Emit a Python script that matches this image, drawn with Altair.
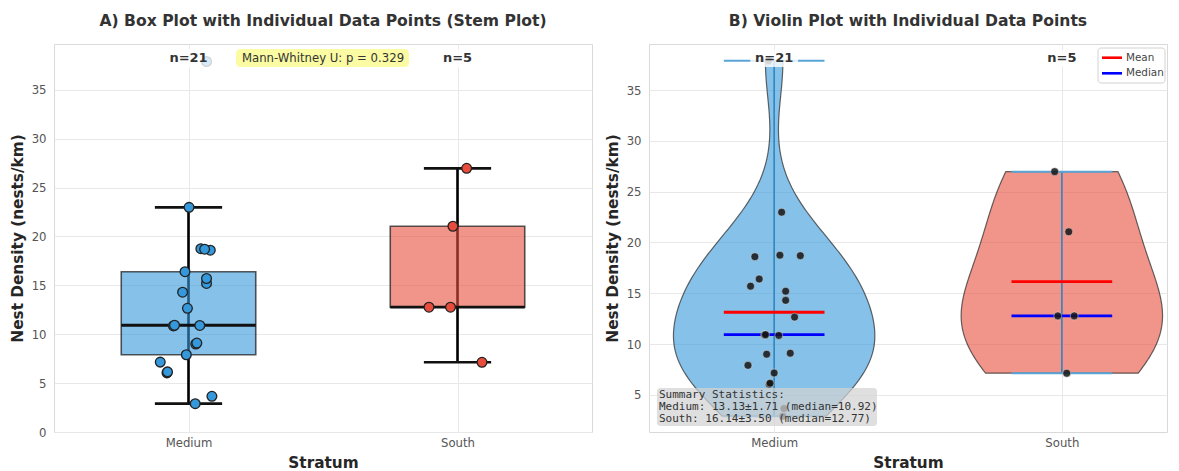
import altair as alt
import numpy as np
import pandas as pd

# ---------------- data ----------------
strata = ["Medium", "South"]
positions = [1, 2]
colors = ["#3498db", "#e74c3c"]

medium_values = [2.9, 3.65, 6.05, 6.15, 7.15, 7.9, 9.0, 9.1, 10.85, 10.9, 10.92,
                 12.65, 14.3, 15.2, 15.7, 16.4, 18.6, 18.75, 18.7, 22.98, 37.9]
medium_jitter_box = [0.025, 0.087, -0.08, -0.078, -0.105, -0.008, 0.027, 0.031, -0.056, 0.042, -0.052,
                     -0.004, -0.022, 0.067, 0.067, -0.013, 0.081, 0.046, 0.060, 0.002, 0.067]
medium_jitter_violin = [0.03, 0.034, -0.017, -0.014, 0.0, -0.091, -0.026, 0.056, 0.016, -0.033, -0.030,
                        0.071, 0.040, 0.040, -0.082, -0.052, -0.067, 0.020, 0.091, 0.026, -0.02]

south_values = [26.97, 21.05, 12.77, 12.77, 7.13]
south_jitter_box = [0.034, -0.017, -0.106, -0.026, 0.091]
south_jitter_violin = [-0.025, 0.024, -0.014, 0.043, 0.017]

y_ticks_left = [0, 5, 10, 15, 20, 25, 30, 35]
y_ticks_right = [5, 10, 15, 20, 25, 30, 35]
test_label = "Mann-Whitney U: p = 0.329"
legend_labels = ["Mean", "Median"]
legend_colors = ["#ff0000", "#0000ff"]
title_left = "A) Box Plot with Individual Data Points (Stem Plot)"
title_right = "B) Violin Plot with Individual Data Points"
y_title = "Nest Density (nests/km)"
x_title = "Stratum"

values_by = {"Medium": medium_values, "South": south_values}
jb_by = {"Medium": medium_jitter_box, "South": south_jitter_box}
jv_by = {"Medium": medium_jitter_violin, "South": south_jitter_violin}

# ---------------- tables ----------------
rows = []
for s, p in zip(strata, positions):
    for v, jb, jv in zip(values_by[s], jb_by[s], jv_by[s]):
        rows.append({"stratum": s, "pos": p, "value": v, "jb": jb, "jv": jv})
pts = pd.DataFrame(rows)

stat_rows = []
mm_rows = []
summary_lines = ["Summary Statistics:"]
for s, p in zip(strata, positions):
    v = np.array(values_by[s])
    q1, med, q3 = np.percentile(v, [25, 50, 75])
    iqr = q3 - q1
    lo = v[v >= q1 - 1.5 * iqr].min()
    hi = v[v <= q3 + 1.5 * iqr].max()
    mean = v.mean()
    sem = v.std(ddof=1) / np.sqrt(len(v))
    stat_rows.append({"stratum": s, "pos": p, "q1": q1, "q3": q3, "med": med,
                      "lo": lo, "hi": hi, "vmin": v.min(), "vmax": v.max(),
                      "nlabel": f"n={len(v)}"})
    mm_rows.append({"stat": "Mean", "pos": p, "value": mean})
    mm_rows.append({"stat": "Median", "pos": p, "value": med})
    summary_lines.append(f"{s}: {mean:.2f}\u00b1{sem:.2f} (median={med:.2f})")
stats = pd.DataFrame(stat_rows)
mm = pd.DataFrame(mm_rows)

# ---------------- helpers ----------------
LEFT_W, RIGHT_W, H = 538, 518, 388
XL_DOM = [0.5, 2.5]
XR_DOM = [0.565, 0.565 + RIGHT_W / 287.7]
YL_DOM = [0, 39.69]
YR_DOM = [1.34, 39.54]
lab_expr = f"datum.value == {positions[0]} ? '{strata[0]}' : '{strata[1]}'"


def X(field, dom):
    return alt.X(field, type="quantitative",
                 scale=alt.Scale(domain=dom, nice=False, zero=False),
                 axis=alt.Axis(values=positions, labelExpr=lab_expr, title=x_title,
                               labelPadding=5, titlePadding=7))


def Y(field, dom, ticks):
    return alt.Y(field, type="quantitative",
                 scale=alt.Scale(domain=dom, nice=False, zero=False),
                 axis=alt.Axis(values=ticks, title=y_title, labelPadding=8, titlePadding=6))


fill_enc = alt.Fill("stratum:N", scale=alt.Scale(domain=strata, range=colors), legend=None)

# ---------------- left panel: box / stem plot ----------------
bs = alt.Chart(stats).transform_calculate(
    bl="datum.pos - 0.25", br="datum.pos + 0.25",
    cl="datum.pos - 0.125", cr="datum.pos + 0.125",
    nl="datum.pos - 0.075", nr="datum.pos + 0.09")

stem = bs.mark_rule(color="black", strokeWidth=2.6).encode(
    x=X("pos", XL_DOM), y=Y("lo", YL_DOM, y_ticks_left), y2="hi")
box = bs.mark_rect(fillOpacity=0.6, stroke="#222222", strokeWidth=1.6, strokeOpacity=0.75).encode(
    x=X("bl", XL_DOM), x2="br", y=Y("q1", YL_DOM, y_ticks_left), y2="q3", fill=fill_enc)
median_l = bs.mark_rule(color="#111111", strokeWidth=2.8).encode(
    x=X("bl", XL_DOM), x2="br", y=Y("med", YL_DOM, y_ticks_left))
cap_hi = bs.mark_rule(color="#111111", strokeWidth=2.6).encode(
    x=X("cl", XL_DOM), x2="cr", y=Y("hi", YL_DOM, y_ticks_left))
cap_lo = bs.mark_rule(color="#111111", strokeWidth=2.6).encode(
    x=X("cl", XL_DOM), x2="cr", y=Y("lo", YL_DOM, y_ticks_left))
pts_l = alt.Chart(pts).transform_calculate(xj="datum.pos + datum.jb").mark_circle(
    size=95, opacity=1, stroke="#222222", strokeWidth=1.3).encode(
    x=X("xj", XL_DOM), y=Y("value", YL_DOM, y_ticks_left), fill=fill_enc)
nbox_l = bs.mark_rect(fill="white", opacity=0.8, cornerRadius=4).encode(
    x=X("nl", XL_DOM), x2="nr", y=alt.value(5), y2=alt.value(24))
ntext_l = bs.mark_text(fontSize=13, fontWeight="bold", color="#333333").encode(
    x=X("pos", XL_DOM), y=alt.value(14), text="nlabel:N")
tdf = pd.DataFrame({"label": [test_label]})
mw_box = alt.Chart(tdf).mark_rect(fill="#fbfb9a", opacity=0.9, cornerRadius=4).encode(
    x=alt.value(182), x2=alt.value(355), y=alt.value(5), y2=alt.value(23))
mw_text = alt.Chart(tdf).mark_text(fontSize=11.7, color="#333333").encode(
    x=alt.value(LEFT_W / 2), y=alt.value(14), text="label:N")

left = alt.layer(stem, box, median_l, cap_hi, cap_lo, pts_l, nbox_l, ntext_l, mw_box, mw_text).properties(
    width=LEFT_W, height=H,
    title=alt.TitleParams(title_left, fontSize=15.6, fontWeight="bold", color="#333333", offset=14))

# ---------------- right panel: violin plot ----------------
violins = []
for s, p, c in zip(strata, positions, colors):
    v = np.array(values_by[s])
    bw = v.std(ddof=1) * len(v) ** (-0.2)
    vio = alt.Chart(pts).transform_filter(alt.datum.stratum == s).transform_density(
        "value", as_=["value", "density"], extent=[float(v.min()), float(v.max())],
        bandwidth=float(bw), steps=120
    ).transform_joinaggregate(maxd="max(density)").transform_calculate(
        xa=f"{p} - 0.35 * datum.density / datum.maxd",
        xb=f"{p} + 0.35 * datum.density / datum.maxd"
    ).mark_area(orient="horizontal", color=c, fillOpacity=0.6, stroke="#333333",
                strokeWidth=1.2, strokeOpacity=0.75).encode(
        y=Y("value", YR_DOM, y_ticks_right), x=X("xa", XR_DOM), x2="xb")
    violins.append(vio)

rs = alt.Chart(stats).transform_calculate(
    cl="datum.pos - 0.175", cr="datum.pos + 0.175",
    nl="datum.pos - 0.083", nr="datum.pos + 0.083")
cbar = rs.mark_rule(color="#2e86c1", strokeWidth=1.6).encode(
    x=X("pos", XR_DOM), y=Y("vmin", YR_DOM, y_ticks_right), y2="vmax")
cmax = rs.mark_rule(color="#5aa5d8", strokeWidth=2).encode(
    x=X("cl", XR_DOM), x2="cr", y=Y("vmax", YR_DOM, y_ticks_right))
cmin = rs.mark_rule(color="#5aa5d8", strokeWidth=2).encode(
    x=X("cl", XR_DOM), x2="cr", y=Y("vmin", YR_DOM, y_ticks_right))
mm_lines = alt.Chart(mm).transform_calculate(
    l="datum.pos - 0.175", r="datum.pos + 0.175").mark_rule(strokeWidth=2.8).encode(
    x=X("l", XR_DOM), x2="r", y=Y("value", YR_DOM, y_ticks_right),
    stroke=alt.Stroke("stat:N", scale=alt.Scale(domain=legend_labels, range=legend_colors),
                      legend=None))
pts_r = alt.Chart(pts).transform_calculate(xj="datum.pos + datum.jv").mark_circle(
    size=64, color="#151515", opacity=0.85, stroke="white", strokeWidth=0.5).encode(
    x=X("xj", XR_DOM), y=Y("value", YR_DOM, y_ticks_right))
sdf = pd.DataFrame({"txt": ["\n".join(summary_lines)]})
sum_box = alt.Chart(sdf).mark_rect(fill="#d3d3d3", opacity=0.72, cornerRadius=3).encode(
    x=alt.value(8), x2=alt.value(228), y=alt.value(344), y2=alt.value(382))
sum_text = alt.Chart(sdf).mark_text(font="DejaVu Sans Mono", fontSize=11, lineBreak="\n",
                                    lineHeight=12, align="left", baseline="top",
                                    color="#333333").encode(
    x=alt.value(10), y=alt.value(345), text="txt:N")
nbox_r = rs.mark_rect(fill="white", opacity=0.8, cornerRadius=4).encode(
    x=X("nl", XR_DOM), x2="nr", y=alt.value(6), y2=alt.value(23))
ntext_r = rs.mark_text(fontSize=13, fontWeight="bold", color="#333333").encode(
    x=X("pos", XR_DOM), y=alt.value(14), text="nlabel:N")

# legend box (upper right of panel B)
ldf = pd.DataFrame({"label": legend_labels, "color": legend_colors})
leg_box = alt.Chart(ldf.iloc[[0]]).mark_rect(
    fill="white", opacity=0.85, stroke="#cccccc", strokeWidth=1, cornerRadius=3).encode(
    x=alt.value(449), x2=alt.value(516), y=alt.value(4), y2=alt.value(39))
leg_layers = [leg_box]
for i, (lab, col) in enumerate(zip(legend_labels, legend_colors)):
    row = ldf.iloc[[i]]
    yy = 13.7 + 15.6 * i
    leg_layers.append(alt.Chart(row).mark_rule(color=col, strokeWidth=2.6).encode(
        x=alt.value(453), x2=alt.value(473), y=alt.value(yy)))
    leg_layers.append(alt.Chart(row).mark_text(align="left", baseline="middle", fontSize=10.4,
                                               color="#444444").encode(
        x=alt.value(477), y=alt.value(yy), text="label:N"))

right = alt.layer(*violins, cbar, cmax, cmin, mm_lines, pts_r, sum_box, sum_text, nbox_r, ntext_r,
                  *leg_layers).properties(
    width=RIGHT_W, height=H,
    title=alt.TitleParams(title_right, fontSize=15.6, fontWeight="bold", color="#333333", offset=14))

chart = alt.hconcat(left, right, spacing=11).properties(
    padding={"left": 1, "top": 5, "right": 0, "bottom": 0}
).configure(font="DejaVu Sans").configure_view(
    stroke="#d9d9d9", strokeWidth=1
).configure_axis(
    labelFontSize=11.7, labelColor="#555555", titleFontSize=15.3, titleFontWeight="bold",
    titleColor="#262626", ticks=False, domain=False, gridColor="#e8e8e8", gridWidth=1
)

chart.save("out.html", embed_options={"renderer": "svg", "actions": False})
